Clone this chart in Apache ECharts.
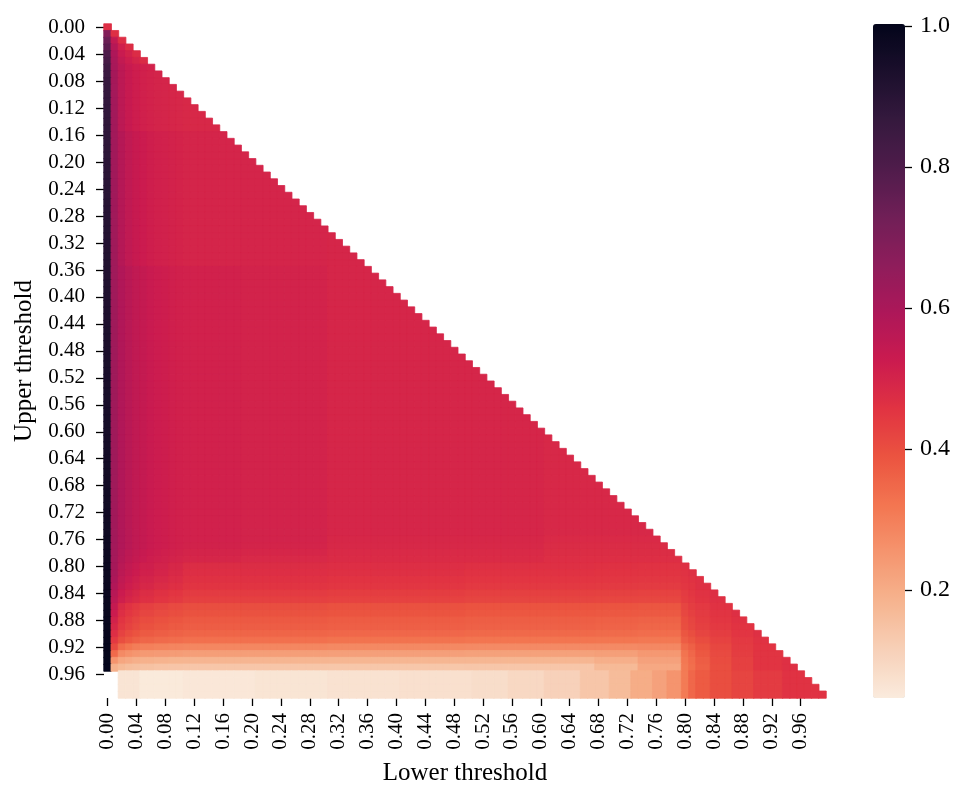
<!DOCTYPE html>
<html><head><meta charset="utf-8">
<script src="https://cdn.jsdelivr.net/npm/echarts@6/dist/echarts.min.js"></script>
<style>html,body{margin:0;padding:0;background:#fff}#chart{width:968px;height:794px}</style>
</head><body><div id="chart"></div>
<script>
// category labels (both axes)
const thresholds = ['0.00','0.01','0.02','0.03','0.04','0.05','0.06','0.07','0.08','0.09',
'0.10','0.11','0.12','0.13','0.14','0.15','0.16','0.17','0.18','0.19',
'0.20','0.21','0.22','0.23','0.24','0.25','0.26','0.27','0.28','0.29',
'0.30','0.31','0.32','0.33','0.34','0.35','0.36','0.37','0.38','0.39',
'0.40','0.41','0.42','0.43','0.44','0.45','0.46','0.47','0.48','0.49',
'0.50','0.51','0.52','0.53','0.54','0.55','0.56','0.57','0.58','0.59',
'0.60','0.61','0.62','0.63','0.64','0.65','0.66','0.67','0.68','0.69',
'0.70','0.71','0.72','0.73','0.74','0.75','0.76','0.77','0.78','0.79',
'0.80','0.81','0.82','0.83','0.84','0.85','0.86','0.87','0.88','0.89',
'0.90','0.91','0.92','0.93','0.94','0.95','0.96','0.97','0.98','0.99'];

const colorbarTicks = [0.2, 0.4, 0.6, 0.8, 1.0];
const valueMin = 0.047, valueMax = 1.003;

// lower threshold = 0.00 column, one value per upper-threshold row
const firstColumn = [0.47,0.69,0.74,0.77,0.80,0.82,0.84,0.85,0.86,0.865,
0.87,0.872,0.875,0.877,0.88,0.882,0.884,0.886,0.888,0.89,
0.892,0.894,0.896,0.898,0.90,0.901,0.903,0.905,0.906,0.908,
0.91,0.911,0.913,0.914,0.916,0.917,0.919,0.92,0.921,0.923,
0.924,0.925,0.927,0.928,0.929,0.931,0.932,0.933,0.935,0.936,
0.937,0.939,0.94,0.941,0.943,0.944,0.945,0.947,0.948,0.949,
0.95,0.952,0.953,0.954,0.956,0.957,0.958,0.96,0.961,0.962,
0.963,0.965,0.966,0.967,0.968,0.97,0.971,0.972,0.973,0.975,
0.976,0.977,0.978,0.98,0.981,0.983,0.985,0.987,0.989,0.991,
0.993,0.995,0.997,0.998,0.999,1.0,null,null,null,null];

// lower threshold = 0.01 column
const secondColumn = [null,0.467,0.545,0.575,0.59,0.60,0.605,0.61,0.61,0.612,
0.614,0.615,0.616,0.617,0.617,0.618,0.618,0.619,0.619,0.62,
0.62,0.62,0.62,0.621,0.621,0.621,0.621,0.621,0.622,0.622,
0.622,0.622,0.622,0.622,0.623,0.623,0.623,0.623,0.623,0.623,
0.623,0.624,0.624,0.624,0.624,0.624,0.624,0.624,0.624,0.625,
0.625,0.625,0.625,0.625,0.625,0.625,0.625,0.625,0.625,0.625,
0.625,0.625,0.625,0.625,0.624,0.624,0.624,0.623,0.623,0.622,
0.622,0.621,0.62,0.62,0.619,0.618,0.617,0.616,0.614,0.612,
0.61,0.605,0.595,0.585,0.57,0.56,0.54,0.525,0.505,0.49,
0.47,0.445,0.41,0.345,0.255,0.19,null,null,null,null];

// remaining columns (lower >= 0.02) as [value, number of cells] runs
const topRowRuns = [[], [], [[0.47,98]], [[0.51,1],[0.475,97]],
  [[0.53,1],[0.505,1],[0.476,96]], [[0.545,1],[0.52,1],[0.5,1],[0.478,95]]];
const upperBodyRuns = [[0.56,1],[0.535,1],[0.52,1],[0.51,1],[0.504,1],[0.5,1],[0.497,1],[0.494,1],[0.492,1],[0.489,20],[0.486,69]];
const middleBodyRuns = [[0.575,1],[0.55,1],[0.535,1],[0.525,1],[0.516,1],[0.51,1],[0.507,1],[0.504,1],[0.501,1],[0.497,20],[0.493,30],[0.488,39]];
const lowerBodyRuns = [[0.585,1],[0.565,1],[0.55,1],[0.54,1],[0.53,1],[0.523,1],[0.518,1],[0.513,1],[0.51,1],[0.507,8],[0.502,12],[0.495,30],[0.488,39]];
const floorRuns = [[0.064,3],[0.05,6],[0.056,10],[0.063,10],[0.07,10],[0.075,10],[0.082,5],[0.095,5],[0.112,5],[0.14,4],[0.165,3],[0.2,3],[0.225,2],[0.255,2],[0.31,1],[0.35,1],[0.375,2],[0.4,3],[0.42,3],[0.44,4],[0.46,6]];
// column groups for rows 0.80-0.95: 2,3,4 | 5-6 | 7-8 | 9-10 | 11-30 | 31-49 | 50-67 | 68-73 | 74-79 | 80 | 81 | 82-83 | 84-86 | 87-89 | 90-93 | 94-99
const bottomRowRuns = [
 [[0.585,1],[0.565,1],[0.55,1],[0.54,1],[0.53,1],[0.523,1],[0.518,1],[0.513,1],[0.51,1],[0.507,8],[0.502,12],[0.49,30],[0.482,39]],
 [[0.585,1],[0.565,1],[0.55,1],[0.54,1],[0.53,1],[0.523,1],[0.518,1],[0.513,1],[0.51,1],[0.506,8],[0.5,12],[0.487,30],[0.478,39]],
 [[0.58,1],[0.56,1],[0.545,1],[0.535,1],[0.525,1],[0.518,1],[0.513,1],[0.508,1],[0.505,1],[0.5,8],[0.494,12],[0.483,30],[0.474,39]],
 [[0.575,1],[0.555,1],[0.54,1],[0.53,1],[0.52,1],[0.513,1],[0.508,1],[0.503,1],[0.5,1],[0.494,8],[0.486,12],[0.479,30],[0.47,39]],
 [[0.565,1],[0.545,1],[0.53,1],[0.515,2],[0.503,2],[0.49,2],[0.475,20],[0.47,19],[0.465,18],[0.462,6],[0.46,6],[0.465,20]],
 [[0.56,1],[0.54,1],[0.525,1],[0.51,2],[0.498,2],[0.485,2],[0.47,20],[0.465,19],[0.46,18],[0.457,6],[0.455,6],[0.46,1],[0.465,19]],
 [[0.55,1],[0.53,1],[0.515,1],[0.5,2],[0.488,2],[0.476,2],[0.462,20],[0.457,19],[0.452,18],[0.45,6],[0.448,6],[0.455,1],[0.46,1],[0.465,17]],
 [[0.54,1],[0.52,1],[0.505,1],[0.49,2],[0.478,2],[0.467,2],[0.455,20],[0.45,19],[0.445,18],[0.442,6],[0.44,6],[0.45,1],[0.455,1],[0.465,17]],
 [[0.525,1],[0.505,1],[0.49,1],[0.475,2],[0.463,2],[0.452,2],[0.44,20],[0.435,19],[0.43,18],[0.428,6],[0.425,6],[0.44,1],[0.45,1],[0.46,2],[0.468,15]],
 [[0.515,1],[0.495,1],[0.48,1],[0.465,2],[0.453,2],[0.442,2],[0.43,20],[0.425,19],[0.42,18],[0.418,6],[0.415,6],[0.435,1],[0.445,1],[0.455,2],[0.465,15]],
 [[0.48,1],[0.46,1],[0.445,1],[0.43,2],[0.42,2],[0.41,2],[0.4,20],[0.395,19],[0.39,18],[0.388,6],[0.385,6],[0.42,1],[0.435,1],[0.445,2],[0.46,15]],
 [[0.47,1],[0.45,1],[0.435,1],[0.42,2],[0.41,2],[0.4,2],[0.392,20],[0.388,19],[0.383,18],[0.38,6],[0.378,6],[0.415,1],[0.43,1],[0.44,2],[0.455,3],[0.468,12]],
 [[0.455,1],[0.435,1],[0.42,1],[0.405,2],[0.395,2],[0.386,2],[0.378,20],[0.373,19],[0.368,18],[0.365,6],[0.36,6],[0.405,1],[0.42,1],[0.435,2],[0.45,3],[0.462,3],[0.468,10]],
 [[0.445,1],[0.425,1],[0.41,1],[0.395,2],[0.385,2],[0.377,2],[0.37,20],[0.366,19],[0.362,18],[0.358,6],[0.353,6],[0.4,1],[0.415,1],[0.43,2],[0.445,3],[0.458,3],[0.466,10]],
 [[0.425,1],[0.405,1],[0.39,1],[0.377,2],[0.368,2],[0.36,2],[0.355,20],[0.35,19],[0.347,18],[0.343,6],[0.338,6],[0.385,1],[0.4,1],[0.42,2],[0.435,3],[0.452,3],[0.465,10]],
 [[0.4,1],[0.38,1],[0.365,1],[0.353,2],[0.345,2],[0.338,2],[0.332,20],[0.327,19],[0.323,18],[0.32,6],[0.315,6],[0.37,1],[0.385,1],[0.405,2],[0.425,3],[0.445,3],[0.46,10]],
 [[0.34,1],[0.32,1],[0.305,1],[0.298,2],[0.292,2],[0.287,2],[0.283,20],[0.279,19],[0.275,18],[0.275,6],[0.28,6],[0.345,1],[0.365,1],[0.39,2],[0.415,3],[0.44,3],[0.458,10]],
 [[0.275,1],[0.26,1],[0.25,1],[0.244,2],[0.24,2],[0.236,2],[0.232,20],[0.229,19],[0.226,18],[0.23,6],[0.245,6],[0.325,1],[0.35,1],[0.38,2],[0.41,3],[0.435,3],[0.455,10]],
 [[0.215,1],[0.205,1],[0.195,1],[0.19,2],[0.185,2],[0.182,2],[0.18,20],[0.178,19],[0.178,18],[0.195,6],[0.225,6],[0.315,1],[0.34,1],[0.37,2],[0.405,3],[0.43,3],[0.455,4],[0.465,6]],
 [[0.17,1],[0.16,1],[0.155,1],[0.15,2],[0.145,2],[0.142,2],[0.14,20],[0.138,19],[0.14,18],[0.17,6],[0.21,6],[0.31,1],[0.335,1],[0.365,2],[0.4,3],[0.43,3],[0.455,4],[0.465,6]],
 floorRuns, floorRuns, floorRuns, floorRuns
];

// rocket_r colour ramp (light -> dark)
const rocketR = ['#faebdd','#f7d0b8','#f6b48f','#f5956f','#f37651','#eb5440','#e13342','#cb1b4f','#ad1759','#8e1d5b','#701f57','#4f1c4b','#35193e','#1b0f2c','#03051a'];

function runsFor(i){
  if (i < 6) return topRowRuns[i];
  if (i < 16) return upperBodyRuns;
  if (i < 36) return middleBodyRuns;
  if (i < 76) return lowerBodyRuns;
  return bottomRowRuns[i - 76];
}
function expand(runs){ const out=[]; runs.forEach(([v,n])=>{ for(let k=0;k<n;k++) out.push(v); }); return out; }
function colorOf(v){
  const t = Math.max(0, Math.min(1, (v - valueMin) / (valueMax - valueMin)));
  return echarts.color.lerp(t, rocketR);
}

const cells = [];
for (let i = 0; i < thresholds.length; i++) {
  const rest = expand(runsFor(i));
  for (let j = 0; j <= i; j++) {
    const v = j === 0 ? firstColumn[i] : (j === 1 ? secondColumn[i] : rest[j - 2]);
    if (v === null || v === undefined) continue;
    cells.push({value: [j, i, v], itemStyle: {borderColor: colorOf(v), borderWidth: 0.8}});
  }
}

const FONT = "'Liberation Serif','Times New Roman',serif";
const chart = echarts.init(document.getElementById('chart'), null, {renderer: 'canvas'});
chart.setOption({
  animation: false,
  backgroundColor: '#ffffff',
  grid: [
    {left: 104, top: 24, width: 722, height: 674},
    {left: 873, top: 24, width: 32, height: 674}
  ],
  xAxis: [{
    type: 'category', data: thresholds, gridIndex: 0, position: 'bottom',
    axisLine: {show: false},
    axisTick: {show: true, alignWithLabel: true, interval: 3, length: 8, lineStyle: {color: '#000', width: 1.3}},
    axisLabel: {interval: 3, rotate: 90, margin: 15, fontFamily: FONT, fontSize: 21, color: '#000'},
    splitLine: {show: false}, splitArea: {show: false},
    name: 'Lower threshold', nameLocation: 'middle', nameGap: 63,
    nameTextStyle: {fontFamily: FONT, fontSize: 25, color: '#000'}
  }, {
    type: 'value', gridIndex: 1, show: false, min: 0, max: 1
  }],
  yAxis: [{
    type: 'category', data: thresholds, gridIndex: 0, inverse: true,
    axisLine: {show: false},
    axisTick: {show: true, alignWithLabel: true, interval: 3, length: 8, lineStyle: {color: '#000', width: 1.3}},
    axisLabel: {interval: 3, margin: 19, fontFamily: FONT, fontSize: 21, color: '#000'},
    splitLine: {show: false}, splitArea: {show: false},
    name: 'Upper threshold', nameLocation: 'middle', nameGap: 63,
    nameTextStyle: {fontFamily: FONT, fontSize: 25, color: '#000'}
  }, {
    type: 'value', gridIndex: 1, position: 'right', min: valueMin, max: valueMax, z: 10,
    axisLine: {show: false, onZero: false},
    splitLine: {show: false},
    axisTick: {show: true, inside: false, length: 7, customValues: colorbarTicks, lineStyle: {color: '#000', width: 1.3}},
    axisLabel: {customValues: colorbarTicks, margin: 15, fontFamily: FONT, fontSize: 24, color: '#000',
      formatter: v => Number(v).toFixed(1)}
  }],
  visualMap: {
    type: 'continuous', min: valueMin, max: valueMax, calculable: false, hoverLink: false,
    orient: 'vertical', left: 873, top: 24, itemWidth: 32, itemHeight: 674, padding: 0,
    seriesIndex: 0, inRange: {color: rocketR}, text: null, showLabel: false
  },
  series: [{
    type: 'heatmap', xAxisIndex: 0, yAxisIndex: 0, data: cells, progressive: 0,
    emphasis: {disabled: true}
  }]
});
</script></body></html>
